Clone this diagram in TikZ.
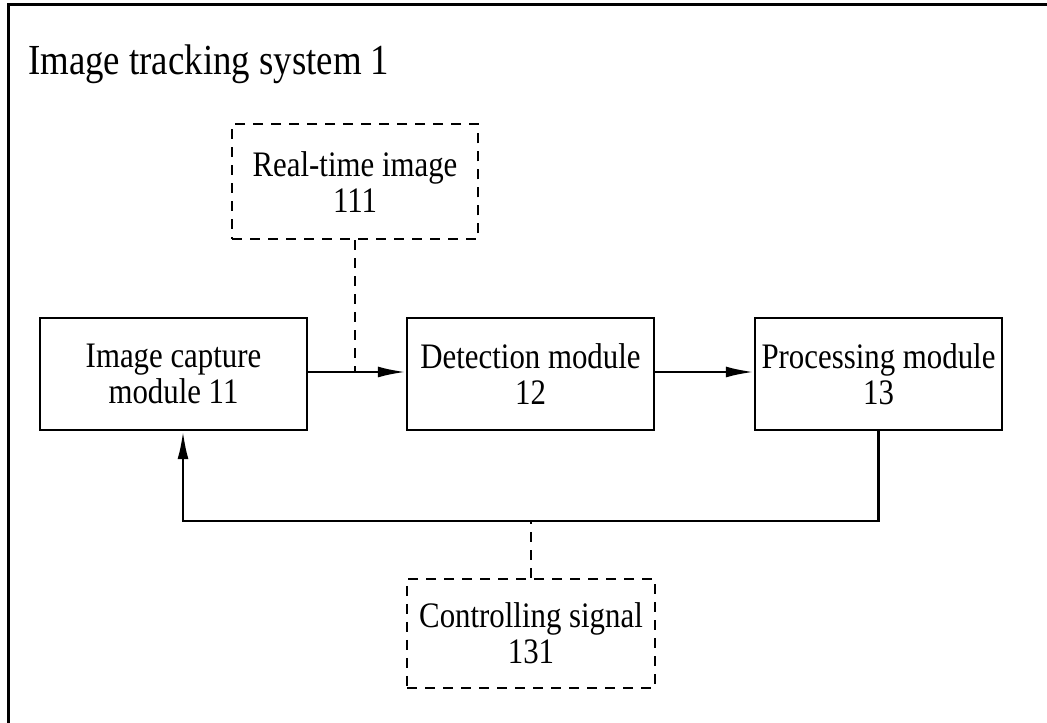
\documentclass[tikz,border=0pt]{standalone}
\usepackage{fontspec}
\usepackage{graphicx}
\setmainfont{Liberation Serif}
\usetikzlibrary{arrows.meta}
\newcommand\nar[1]{\scalebox{0.86}[1]{#1}}
\tikzset{
  block/.style={draw,line width=2.5bp,minimum width=247bp,minimum height=112bp,align=center,inner sep=0pt,font=\fontsize{36}{36}\selectfont},
  dblock/.style={block,dashed,line width=2bp,dash pattern=on 10bp off 8bp},
  link/.style={line width=2.5bp},
  dlink/.style={line width=2bp,dash pattern=on 10bp off 8bp},
}
\begin{document}
\begin{tikzpicture}[line join=miter]
\useasboundingbox (0bp,0bp) rectangle (1047bp,723bp);
%%
\draw [line width=3bp] (8bp,0bp) -- (8bp,718bp) -- (1047bp,718bp);
\node (title) at (28bp,648bp) [anchor=base west,inner sep=0pt,font=\fontsize{43}{45}\selectfont] {\nar{Image tracking system 1}};
  \node (node_111) at (355bp,541bp) [dblock,minimum width=246bp,minimum height=115bp] {\nar{Real-time image}\\\nar{111}};
  \node (node_11) at (173.5bp,349bp) [block,minimum width=267bp] {\nar{Image capture}\\\nar{module 11}};
  \node (node_12) at (530.5bp,349bp) [block] {\nar{Detection module}\\\nar{12}};
  \node (node_13) at (878.5bp,349bp) [block] {\nar{Processing module}\\\nar{13}};
  \node (node_131) at (531bp,89.5bp) [dblock,minimum width=248bp,minimum height=109bp] {\nar{Controlling signal}\\\nar{131}};
  \coordinate (fb_r) at (878.5bp,202bp);
  \coordinate (fb_l) at (183bp,202bp);
  \draw [link,-{Latex[length=28bp,width=11bp]}] ([yshift=2bp]node_11.east) -- ([yshift=2bp]node_12.west);
  \draw [link,-{Latex[length=28bp,width=11bp]}] ([yshift=2bp]node_12.east) -- ([yshift=2bp]node_13.west);
  \draw [link,-{Latex[length=28bp,width=11bp]}] (node_13.south) -- (fb_r) -- (fb_l) -- (fb_l |- node_11.south);
  \draw [dlink] (node_111.south) -- ([yshift=2bp]node_111.south |- node_11.east);
  \draw [dlink] (node_131.north) -- (node_131.north |- fb_r);
%
\end{tikzpicture}
\end{document}
